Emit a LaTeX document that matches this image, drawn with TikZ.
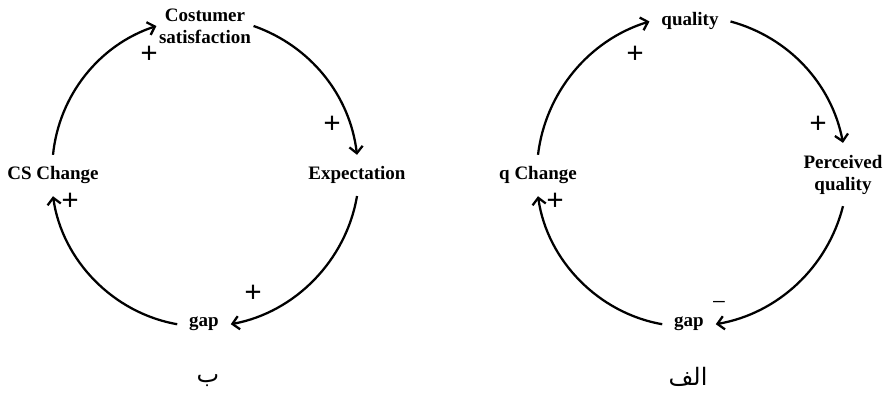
\documentclass[tikz,border=0pt]{standalone}
\usepackage{fontspec}
\setmainfont{Liberation Serif}
\newfontfamily\arabicfont[Script=Arabic]{DejaVu Sans}
\TeXXeTstate=1
\usetikzlibrary{arrows.meta}

\begin{document}
\begin{tikzpicture}[x=0.75pt, y=0.75pt, >={Straight Barb[length=5pt,width=10pt]},
  var/.style={font=\fontsize{14.25}{16.5}\selectfont\bfseries, align=center, inner sep=2pt, outer sep=7pt},
  sign/.style={font=\fontsize{23}{23}\selectfont\bfseries, inner sep=0pt},
  link/.style={->, line width=1.7pt, bend left=#1, looseness=0.93},
  caption/.style={font=\fontsize{18}{18}\selectfont\arabicfont, inner sep=0pt}]

  \useasboundingbox (0,0) rectangle (883,393);

  % Ciclo di sinistra (CS)
  \node[var, outer sep=0pt] (cust) at (205,367) {Costumer\\satisfaction};
  \node[var, anchor=base] (expect) at (357,213) {Expectation};
  \node[var, anchor=base] (gapB) at (204,66) {gap};
  \node[var, anchor=base] (csch) at (53,213) {CS Change};

  \draw[link=33] (csch.north) to (cust.west);
  \draw[link=32] (cust.east) to (expect.north);
  \draw[link=35] (expect.south) to (gapB.east);
  \draw[link=36] (gapB.west) to (csch.south);

  \node[sign] (s1) at (149,338) {+};
  \node[sign] (s2) at (332,268) {+};
  \node[sign] (s3) at (253,99) {+};
  \node[sign] (s4) at (70,191) {+};

  \node[caption] (labB) at (208,12) {\beginR ب\endR};

  % Ciclo di destra (qualita)
  \node[var, anchor=base] (qual) at (690,367) {quality};
  \node[var] (perc) at (843,218.5) {Perceived\\quality};
  \node[var, anchor=base] (gapA) at (689,66) {gap};
  \node[var, anchor=base] (qch) at (538,213) {q Change};

  \draw[link=33] (qch.north) to (qual.west);
  \draw[link=32] (qual.east) to (perc.north);
  \draw[link=33] (perc.south) to (gapA.east);
  \draw[link=36] (gapA.west) to (qch.south);

  \node[sign] (t1) at (635,338) {+};
  \node[sign] (t2) at (818,268) {+};
  \node[sign, font=\fontsize{19}{19}\selectfont] (t3) at (719,87) {−};
  \node[sign] (t4) at (555,191) {+};

  \node[caption] (labA) at (688,16) {\beginR الف\endR};

\end{tikzpicture}
\end{document}
